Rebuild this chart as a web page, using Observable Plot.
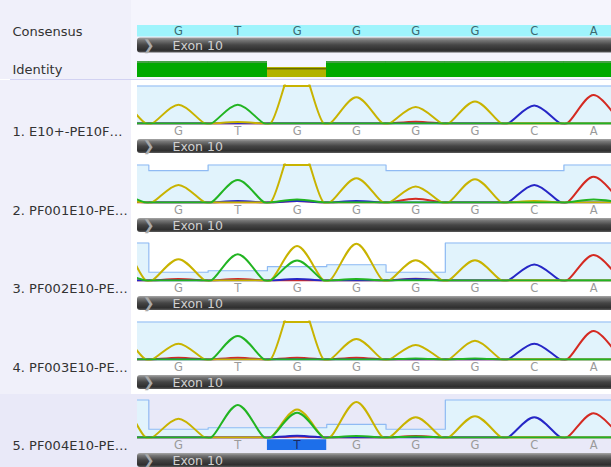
<!DOCTYPE html>
<html><head><meta charset="utf-8">
<script src="https://cdn.jsdelivr.net/npm/d3@7"></script>
<script src="https://cdn.jsdelivr.net/npm/@observablehq/plot@0.6"></script>
<style>
html,body{margin:0;padding:0;overflow:hidden;background:#fff;width:611px;height:467px}
#chart svg{display:block}
.sep{height:1px;background:#d2d2f2;margin-left:10px}
</style></head>
<body>
<svg width="0" height="0" style="position:absolute"><defs>
<linearGradient id="exonGrad" x1="0" y1="0" x2="0" y2="1">
<stop offset="0" stop-color="#a6a6a6"/>
<stop offset="0.18" stop-color="#767676"/>
<stop offset="0.5" stop-color="#454545"/>
<stop offset="0.85" stop-color="#2e2e2e"/>
<stop offset="1" stop-color="#5c5c5c"/>
</linearGradient></defs></svg>
<div id="chart"></div>
<script>
// ---- data ----
const consensus = ["G","T","G","G","G","G","C","A"];          // bases 1..8
const identity  = [1,1,1,0.6,1,1,1,1,1];                       // bases 0..8
const readNames = ["1. E10+-PE10F\u2026","2. PF001E10-PE\u2026","3. PF002E10-PE\u2026","4. PF003E10-PE\u2026","5. PF004E10-PE\u2026"];
const readSeqs  = ["GTGGGGCA","GTGGGGCA","GTGGGGCA","GTGGGGCA","GTTGGGCA"];
const annotation = "Exon 10";
const highlightRead = 5, highlightBase = 3;

// quality per base (bases 0..9)
const q1 = [1,1,1,1,1,1,1,1,1,1];
const q2 = [1,0.85,1,1,1,0.85,0.85,0.85,1,1];
const q3 = [1,0.22,0.26,0.37,0.42,0.22,1,1,1,1];
const q4 = [1,1,1,1,1,1,1,1,1,1];
const q5 = [1,0.22,0.26,0.26,0.35,0.22,1,1,1,1];

// peak heights per base (bases 0..8), 1 = full scale, >1 = saturated
const r1Yellow = [0.6,0.50,0.04,1.7,0.70,0.44,0.59,0,0];
const r1Green  = [0,0,0.50,0,0,0,0,0,0];
const r1Blue   = [0,0,0,0,0,0,0,0.48,0];
const r1Red    = [0,0,0,0,0,0.05,0,0,0.76];

const r2Yellow = [0.05,0.47,0,1.7,0.65,0.43,0.62,0.04,0];
const r2Green  = [0.22,0,0.60,0.08,0,0,0,0,0.08];
const r2Blue   = [0.05,0,0.04,0.04,0.04,0,0,0.47,0];
const r2Red    = [0,0,0,0.04,0,0.10,0,0,0.69];

const r3Yellow = [1.0,0.57,0,0.92,0.98,0.54,0.54,0,0];
const r3Green  = [0.18,0,0.70,0.53,0.04,0,0,0,0];
const r3Blue   = [0,0,0,0.04,0,0.04,0,0.43,0];
const r3Red    = [0,0.04,0.04,0,0,0.05,0,0,0.68];

const r4Yellow = [0.65,0.42,0,1.7,0.55,0.39,0.50,0,0];
const r4Green  = [0,0,0.63,0,0,0.03,0.03,0,0];
const r4Blue   = [0,0,0,0,0,0,0,0.42,0];
const r4Red    = [0,0.05,0.05,0.05,0.05,0,0,0,0.76];

const r5Yellow = [0.95,0.50,0,0.75,0.95,0.54,0.57,0,0];
const r5Green  = [0,0,0.87,0.66,0.04,0.03,0,0,0];
const r5Blue   = [0,0,0,0.05,0,0,0,0.54,0];
const r5Red    = [0,0,0,0.03,0,0.04,0,0,0.65];

// ---- layout / style ----
const X_DOMAIN = [0.309, 8.302];
const COLORS = {red:"#d42a22", blue:"#2626c6", yellow:"#c8b300", green:"#22b422"};
const ORDER = ["red","blue","yellow","green"];
const FONT = "DejaVu Sans, Verdana, sans-serif";
const LABEL_SIZE = 13, LETTER_SIZE = 11.5;
const LEFT_BG = "#f0f0fa";

const reads = [
  {q:q1, red:r1Red, blue:r1Blue, yellow:r1Yellow, green:r1Green},
  {q:q2, red:r2Red, blue:r2Blue, yellow:r2Yellow, green:r2Green},
  {q:q3, red:r3Red, blue:r3Blue, yellow:r3Yellow, green:r3Green},
  {q:q4, red:r4Red, blue:r4Blue, yellow:r4Yellow, green:r4Green},
  {q:q5, red:r5Red, blue:r5Blue, yellow:r5Yellow, green:r5Green}
];

function exonMarks(y1, y2) {
  const ym = (y1 + y2) / 2;
  return [
    Plot.rect([0], {x1: X_DOMAIN[0], x2: X_DOMAIN[1] + 0.3, y1, y2, fill: "url(#exonGrad)", rx: 3}),
    Plot.text(["\u276F"], {frameAnchor: "left", dx: 11, y: ym, text: d => d, fill: "#a9a9a9", fontSize: 14, textAnchor: "middle"}),
    Plot.text([annotation], {frameAnchor: "left", dx: 35, y: ym, text: d => d, fill: "#d0d0d0", fontSize: 12.5, textAnchor: "start"})
  ];
}

function tracePoints(vals) {
  const pts = [];
  vals.forEach((h, i) => { pts.push({x: i - 0.45, y: 0}, {x: i, y: h}, {x: i + 0.45, y: 0}); });
  return pts;
}

const chart = document.getElementById("chart");

// ---- header: consensus + identity ----
const idData = identity.map((v, i) => ({i, v}));
const ID_BOTTOM = 77, ID_H = 16;
const header = Plot.plot({
  width: 611, height: 79, marginLeft: 137, marginRight: 0, marginTop: 0, marginBottom: 0,
  x: {domain: X_DOMAIN, axis: null},
  y: {domain: [0, 79], range: [0, 79], axis: null},
  style: {background: `linear-gradient(to right, ${LEFT_BG} 0px, ${LEFT_BG} 131px, #f5f5fd 131px)`, fontFamily: FONT},
  marks: [
    Plot.rect([0], {x1: X_DOMAIN[0], x2: X_DOMAIN[1] + 0.3, y1: 25, y2: 36.5, fill: "#9ff4fc"}),
    Plot.text(consensus, {x: (d, i) => i + 1, y: 31, text: d => d, fill: "#3b6a72", fontSize: LETTER_SIZE}),
    ...exonMarks(37.5, 52.5),
    Plot.rect(idData, {filter: d => d.v >= 1, x1: d => d.i - 0.5, x2: d => d.i + 0.5, y1: ID_BOTTOM, y2: d => ID_BOTTOM - ID_H * d.v, fill: "#00a900", clip: true, shapeRendering: "crispEdges"}),
    Plot.rect(idData, {filter: d => d.v < 1, x1: d => d.i - 0.5, x2: d => d.i + 0.5, y1: ID_BOTTOM, y2: d => ID_BOTTOM - ID_H * d.v, fill: "#b2b200", clip: true, shapeRendering: "crispEdges"}),
    Plot.ruleY(idData, {filter: d => d.v >= 1, x1: d => d.i - 0.5, x2: d => d.i + 0.5, y: d => ID_BOTTOM - ID_H * d.v + 0.5, stroke: "#8a9a8a", clip: true}),
    Plot.ruleY(idData, {filter: d => d.v < 1, x1: d => d.i - 0.5, x2: d => d.i + 0.5, y: d => ID_BOTTOM - ID_H * d.v + 0.75, stroke: "#6a6a00", strokeWidth: 1.5, clip: true}),
    Plot.text(["Consensus"], {frameAnchor: "left", dx: -125, y: 31, text: d => d, textAnchor: "start", fill: "#333", fontSize: LABEL_SIZE}),
    Plot.text(["Identity"], {frameAnchor: "left", dx: -125, y: 69, text: d => d, textAnchor: "start", fill: "#333", fontSize: LABEL_SIZE})
  ]
});
chart.appendChild(header);
const sep = document.createElement("div"); sep.className = "sep"; chart.appendChild(sep);

// ---- reads ----
const ROW_H = 78.5;
const Y_DOMAIN = [-0.04, 1.03];
const LETTER_Y = -0.213;
reads.forEach((r, k) => {
  const qData = r.q.map((v, i) => ({i, q: v}));
  const letters = readSeqs[k].split("");
  const isHL = (k + 1) === highlightRead;
  const marks = [
    Plot.areaY(qData, {x: "i", y: "q", curve: "step", fill: "#e1f3fc", clip: true}),
    Plot.line(qData, {x: "i", y: "q", curve: "step", stroke: "#8fbaf3", strokeWidth: 1.2, clip: true})
  ];
  for (const ch of ORDER) {
    marks.push(Plot.line(tracePoints(r[ch]), {x: "x", y: "y", curve: "catmull-rom", stroke: COLORS[ch], strokeWidth: 2, clip: true}));
    const sat = r[ch].map((h, i) => ({i, h})).filter(d => d.h > 1);
    if (sat.length) marks.push(Plot.ruleY(sat, {x1: d => d.i - 0.23, x2: d => d.i + 0.23, y: 1, stroke: COLORS[ch], strokeWidth: 2, clip: true}));
  }
  if (isHL) marks.push(Plot.rect([highlightBase], {x1: d => d - 0.5, x2: d => d + 0.5, y1: -0.06, y2: -0.347, fill: "#1d6fea"}));
  marks.push(
    Plot.text(letters, {filter: (d, i) => !(isHL && i + 1 === highlightBase), x: (d, i) => i + 1, y: LETTER_Y, text: d => d, fill: "#9a9a9a", fontSize: LETTER_SIZE}),
    Plot.text(letters, {filter: (d, i) => (isHL && i + 1 === highlightBase), x: (d, i) => i + 1, y: LETTER_Y, text: d => d, fill: "#1b2a60", fontSize: LETTER_SIZE}),
    ...exonMarks(-0.4267, -0.8),
    Plot.text([readNames[k]], {frameAnchor: "left", dx: -125, y: LETTER_Y, text: d => d, textAnchor: "start", fill: "#333", fontSize: LABEL_SIZE})
  );
  const bg = isHL ? "#e9e9f8" : `linear-gradient(to right, ${LEFT_BG} 0px, ${LEFT_BG} 131px, #ffffff 131px)`;
  const p = Plot.plot({
    width: 611, height: ROW_H, marginLeft: 137, marginRight: 0, marginTop: 4.375, marginBottom: 34,
    x: {domain: X_DOMAIN, axis: null},
    y: {domain: Y_DOMAIN, axis: null},
    style: {background: bg, fontFamily: FONT},
    marks
  });
  chart.appendChild(p);
});
</script>
</body></html>
